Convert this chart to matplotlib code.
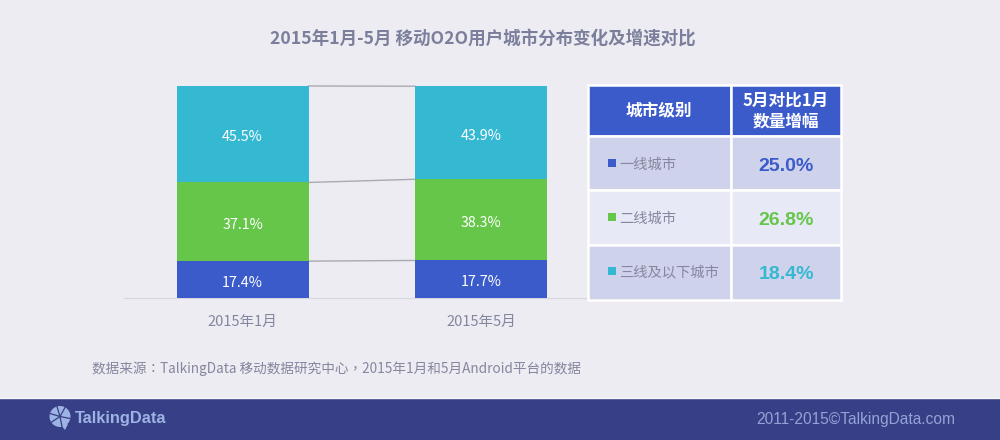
# -*- coding: utf-8 -*-
import matplotlib
matplotlib.use('Agg')
import matplotlib.pyplot as plt
import matplotlib.patches as mPatches

plt.rcParams['font.family'] = ['Noto Sans CJK SC', 'DejaVu Sans']

periods = ['2015年1月', '2015年5月']
tier1 = [17.4, 17.7]
tier2 = [37.1, 38.3]
tier3 = [45.5, 43.9]

cityLevels = ['一线城市', '二线城市', '三线及以下城市']
growth = ['25.0%', '26.8%', '18.4%']
tableHeader = ['城市级别', '5月对比1月\n数量增幅']

title = '2015年1月-5月 移动O2O用户城市分布变化及增速对比'
source = '数据来源：TalkingData 移动数据研究中心，2015年1月和5月Android平台的数据'
copyrightText = '2011-2015©TalkingData.com'

BG = '#ececf2'
GREY = '#85869f'
colors = ['#3b5bcb', '#65c64a', '#35b8d2']
W, H = 1000, 440


def pixelAxes(fig, left, top, right, bottom):
    return fig.add_axes([left / W, 1 - bottom / H, (right - left) / W, (bottom - top) / H])


fig = plt.figure(figsize=(W / 100, H / 100), dpi=100, facecolor=BG)

# full page layer, in pixels
page = pixelAxes(fig, 0, 0, W, H)
page.set_xlim(0, W)
page.set_ylim(H, 0)
page.axis('off')
page.set_zorder(5)
page.add_patch(mPatches.Rectangle((0, 399), W, 41, color='#373f86', lw=0))
page.plot([0, W], [398.5, 398.5], color='#f8f8fb', lw=1)
page.text(483, 39, title, fontsize=12.65, fontweight='bold', color='#7c7f9c', ha='center', va='center')
page.text(92, 369, source, fontsize=9.8, color=GREY, ha='left', va='center',
          family=['Noto Sans CJK TC', 'DejaVu Sans'])
page.text(955, 419.5, copyrightText, fontsize=11.2, color='#93a3d6', ha='right', va='center',
          family='Liberation Sans')

# logo
logoColor = '#9db3e4'
page.add_patch(mPatches.Circle((60, 416.5), 10.5, color=logoColor, lw=0))
page.add_patch(mPatches.Polygon([[61, 425], [68, 424], [65, 430]], color=logoColor, lw=0))
for dx, dy in [(-10, -3), (-3, -10), (5, -9), (10, 2), (-9, 6), (2, 10)]:
    page.plot([60, 60 + dx], [416.5, 416.5 + dy], color='#373f86', lw=0.9)
page.text(74.5, 418, 'TalkingData', fontsize=11.8, fontweight='bold', color=logoColor, ha='left', va='center',
          family='Liberation Sans')

# stacked bars
ax = pixelAxes(fig, 124, 86, 590, 298)
ax.patch.set_alpha(0)
barWidth = 132 / 238.5
xPos = [0, 1]
ax.set_xlim(-118.5 / 238.5, 347.5 / 238.5)
ax.set_ylim(0, 100)

bottoms = [0, 0]
tops = []
for values, color in zip([tier1, tier2, tier3], colors):
    ax.bar(xPos, values, width=barWidth, bottom=bottoms, color=color, lw=0, zorder=3)
    for x, v, b in zip(xPos, values, bottoms):
        ax.annotate(f'{v}%', (x, b + v / 2), xytext=(0, -2.2), textcoords='offset points',
                    color='white', fontsize=10.3, ha='center', va='center', zorder=4)
    bottoms = [b + v for b, v in zip(bottoms, values)]
    tops.append(list(bottoms))

# connector lines between the bars
for level in tops:
    ax.plot([barWidth / 2, 1 - barWidth / 2], level, color='#a9aab2', lw=1, zorder=2, clip_on=False)

for side in ['top', 'right', 'left']:
    ax.spines[side].set_visible(False)
ax.spines['bottom'].set_color('#d6d6de')
ax.set_yticks([])
ax.set_xticks(xPos, periods, fontsize=10.5, color=GREY)
ax.tick_params(axis='x', length=0, pad=12)

# table, the values go on the page layer so they sit where the original has them
tableAx = pixelAxes(fig, 587.5, 85.5, 840.5, 299.5)
tableAx.axis('off')
cellText = [tableHeader] + [['', ''] for g in growth]
table = tableAx.table(cellText=cellText, colWidths=[143.5 / 253, 109.5 / 253], bbox=[0, 0, 1, 1], cellLoc='center')
table.auto_set_font_size(False)
rowHeights = [51, 54, 54.5, 54.5]
rowFills = ['#3b5bcb', '#ced2ea', '#e7e9f6', '#ced2ea']
for (row, col), cell in table.get_celld().items():
    cell.set_facecolor(rowFills[row])
    cell.set_edgecolor('white')
    cell.set_linewidth(1.8)
    cell.set_height(rowHeights[row] / 214)
    if row == 0:
        text = cell.get_text()
        text.set_color('white')
        text.set_fontweight('bold')
        text.set_fontsize(12)
        text.set_linespacing(1.2)

for i, name in enumerate(cityLevels):
    y = 163 + i * 54
    page.add_patch(mPatches.Rectangle((607.5, y - 4), 8, 8, color=colors[i], lw=0, zorder=5))
    page.text(619.5, y + 1.5, name, fontsize=10.3, color=GREY, ha='left', va='center', zorder=5)
    page.text(786, y + 3.5, growth[i], fontsize=14, fontweight='bold', color=colors[i], ha='center', va='center',
              family='Liberation Sans', zorder=5)

fig.savefig('out.png', dpi=100, facecolor=BG)
plt.close(fig)
